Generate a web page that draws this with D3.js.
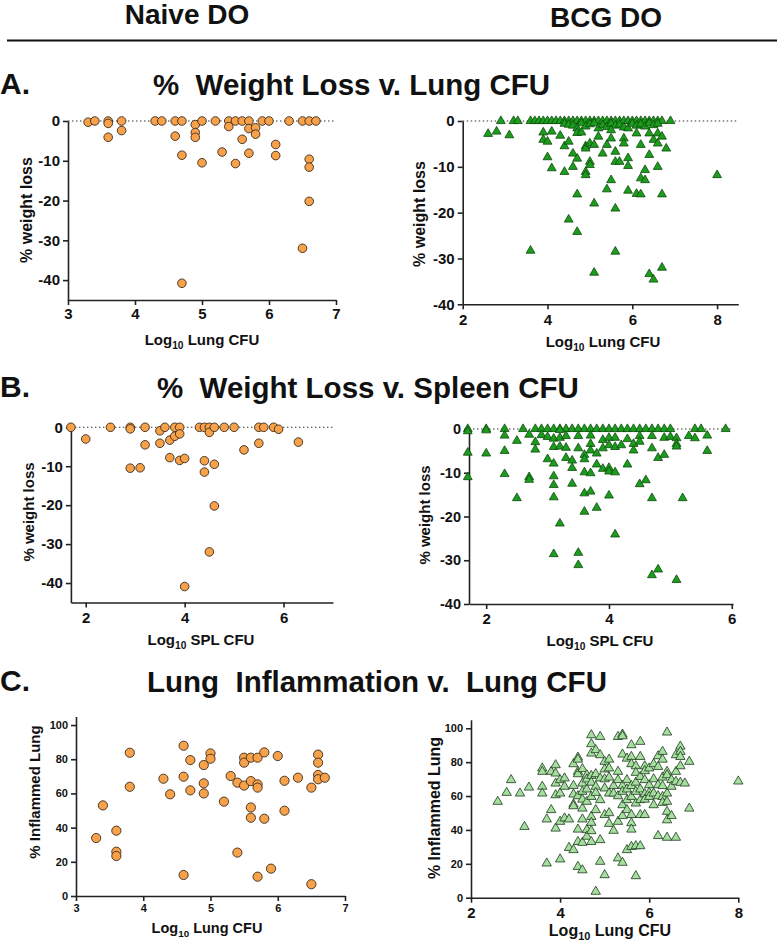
<!DOCTYPE html>
<html>
<head>
<meta charset="utf-8">
<script src="https://cdn.jsdelivr.net/npm/d3@7"></script>
<style>
  body { margin: 0; background: #fff; }
  svg text { font-family: "Liberation Sans", Arial, sans-serif; font-weight: bold; fill: #111; }
</style>
</head>
<body>
<svg id="chart" width="777" height="941"></svg>
<script>
// Panel A: % weight loss v. log10 lung CFU
var naiveWtLung = [
  [3.3,-0.3],[3.4,0],[3.6,0],[3.6,-0.6],[3.6,-4.1],[3.8,0],[3.8,-2.4],[4.3,0],[4.4,0],
  [4.6,0],[4.6,-3.8],[4.7,0],[4.7,-8.6],[4.7,-40.8],[4.9,-0.9],[4.9,-2.9],[4.9,-4.1],
  [5.0,0],[5.0,-10.5],[5.2,0],[5.3,-7.8],[5.4,0],[5.4,-1.4],[5.5,0],[5.5,-10.7],[5.6,0],
  [5.6,-4.6],[5.7,0],[5.7,-1.9],[5.7,-8.1],[5.8,-1.7],[5.8,-3.3],[5.9,0],[6.0,0],
  [6.1,-5.9],[6.1,-8.7],[6.3,0],[6.5,0],[6.5,-32.0],[6.6,0],[6.6,-9.6],[6.6,-11.6],
  [6.6,-20.2],[6.7,0]
];
var bcgWtLung = [
  [2.9,0],[3.2,0],[3.3,0],[3.6,0],[3.7,0],[3.8,0],[3.9,0],[4.0,0],[4.1,0],[4.2,0],[4.3,0],
  [4.4,0],[4.5,0],[4.6,0],[4.7,0],[4.8,0],[4.9,0],[5.0,0],[5.1,0],[5.2,0],[5.3,0],[5.4,0],
  [5.5,0],[5.6,0],[5.7,0],[5.8,0],[5.9,0],[6.0,0],[6.1,0],[6.2,0],[6.3,0],[6.4,0],[6.5,0],
  [6.6,0],[6.7,0],[6.9,0],
  [4.4,-0.6],[4.5,-0.8],[4.6,-1.0],[4.7,-1.6],[4.8,-0.5],[4.9,-1.2],[5.0,-0.7],[5.1,-0.5],
  [5.2,-1.6],[5.3,-0.9],[5.4,-1.3],[5.5,-0.6],[5.6,-1.0],[5.7,-0.8],[5.8,-1.4],[5.9,-1.6],
  [6.0,-0.6],[6.1,-1.0],[6.2,-0.7],[6.3,-1.2],[6.4,-0.5],[6.5,-0.9],[6.6,-0.6],
  [2.6,-2.8],[2.8,-2.3],[3.1,-3.1],[3.6,-28.3],[3.9,-2.5],[3.9,-4.1],[4.0,-4.5],[4.1,-2.3],
  [4.0,-7.9],[4.1,-10.3],[4.3,-3.2],[4.4,-5.5],[4.4,-11.1],[4.5,-4.5],[4.5,-21.5],
  [4.6,-7.1],[4.6,-10.0],[4.7,-8.2],[4.7,-2.6],[4.7,-16.0],[4.7,-24.2],[4.8,-2.5],
  [4.9,-5.5],[4.9,-6.0],[4.9,-11.1],[4.9,-11.8],[5.0,-8.9],[5.0,-9.6],[5.0,-4.9],
  [5.1,-5.2],[5.1,-18.0],[5.1,-33.1],[5.2,-3.4],[5.3,-7.1],[5.4,-5.2],[5.4,-14.9],
  [5.5,-2.0],[5.5,-3.8],[5.5,-12.9],[5.6,-6.7],[5.6,-8.9],[5.6,-19.1],[5.6,-28.5],
  [5.7,-8.9],[5.8,-3.8],[5.8,-4.9],[5.9,-8.1],[5.9,-9.8],[5.9,-15.2],[6.1,-2.7],
  [6.1,-15.9],[6.2,-5.2],[6.2,-12.5],[6.2,-16.0],[6.3,-10.7],[6.3,-12.9],[6.4,-7.4],
  [6.4,-2.7],[6.4,-33.4],[6.5,-4.1],[6.6,-10.0],[6.5,-34.6],[6.6,-2.7],[6.6,-4.9],
  [6.7,-3.4],[6.7,-16.0],[6.7,-32.0],[6.8,-6.0],[8.0,-11.8]
];

// Panel B: % weight loss v. log10 spleen CFU
var naiveWtSpl = [
  [1.7,0],[2.0,-3.0],[2.5,0],[2.9,0],[2.9,-0.4],[2.9,-10.5],[3.1,-10.4],[3.2,0],[3.2,-4.5],
  [3.5,-0.9],[3.5,-4.1],[3.6,0],[3.7,-3.3],[3.7,-7.8],[3.8,0],[3.8,-2.3],[3.9,0],[3.9,-1.7],
  [3.9,-8.5],[4.0,-8.0],[4.0,-40.9],[4.3,0],[4.4,0],[4.4,-8.6],[4.4,-11.5],[4.5,0],
  [4.5,-1.3],[4.5,-32.0],[4.6,0],[4.6,-9.5],[4.6,-20.2],[4.8,0],[5.0,0],[5.2,-5.8],
  [5.5,0],[5.5,-4.1],[5.6,0],[5.8,0],[5.9,-0.5],[6.3,-3.8]
];
var bcgWtSpl = [
  [1.7,0],[2.0,0],[2.3,0],[2.6,0],[2.8,0],[2.9,0],[3.0,0],[3.1,0],[3.2,0],[3.3,0],[3.4,0],
  [3.5,0],[3.6,0],[3.7,0],[3.8,0],[3.9,0],[4.0,0],[4.1,0],[4.2,0],[4.3,0],[4.4,0],[4.5,0],
  [4.6,0],[4.7,0],[4.8,0],[4.9,0],[5.0,0],[5.4,0],[5.5,0],[5.9,0],
  [1.7,-0.5],[1.7,-5.4],[1.7,-11.0],[2.0,-0.3],[2.0,-5.6],[2.3,-1.5],[2.3,-5.0],[2.3,-10.3],
  [2.5,-2.7],[2.5,-15.8],[2.7,-1.3],[2.7,-11.0],[2.7,-11.6],[2.8,-3.0],[2.8,-4.7],
  [2.9,-1.4],[3.0,-1.8],[3.0,-6.9],[3.1,-2.2],[3.1,-4.1],[3.1,-7.9],[3.1,-10.8],
  [3.1,-12.8],[3.1,-15.6],[3.1,-28.6],[3.2,-0.2],[3.2,-2.0],[3.2,-4.0],[3.2,-21.6],
  [3.3,-1.6],[3.3,-4.3],[3.3,-6.6],[3.4,-7.2],[3.4,-8.9],[3.4,-12.5],[3.5,-1.6],
  [3.5,-4.4],[3.5,-28.3],[3.5,-31.1],[3.6,-5.9],[3.6,-6.9],[3.6,-9.9],[3.6,-14.7],
  [3.6,-18.9],[3.7,-1.5],[3.7,-3.4],[3.7,-4.9],[3.7,-10.1],[3.7,-14.3],[3.8,-5.6],
  [3.8,-8.1],[3.8,-18.0],[3.9,-2.5],[3.9,-4.4],[3.9,-9.1],[4.0,-2.0],[4.0,-3.7],
  [4.0,-8.9],[4.0,-9.7],[4.0,-15.2],[4.1,-2.0],[4.1,-4.1],[4.1,-9.9],[4.1,-24.1],
  [4.2,-3.7],[4.3,-2.3],[4.3,-8.1],[4.4,-3.4],[4.4,-4.9],[4.5,-1.6],[4.5,-2.9],
  [4.5,-12.6],[4.6,-11.7],[4.7,-1.6],[4.7,-4.4],[4.7,-15.8],[4.7,-33.4],[4.8,-6.6],
  [4.8,-32.1],[4.9,-2.0],[4.9,-5.9],[5.0,-1.8],[5.1,-2.1],[5.1,-3.4],[5.1,-4.0],
  [5.1,-34.5],[5.2,-15.8],[5.3,-1.6],[5.4,-2.1],[5.6,-1.5],[5.6,-5.0]
];

// Panel C: % inflamed lung v. log10 lung CFU
var naiveInflLung = [
  [3.3,33.9],[3.4,53.0],[3.6,38.2],[3.6,25.9],[3.6,23.4],[3.8,83.8],[3.8,63.9],[4.3,68.6],
  [4.4,59.5],[4.6,87.9],[4.6,69.8],[4.6,12.3],[4.7,79.5],[4.7,61.8],[4.9,76.6],[4.9,65.9],
  [4.9,60.0],[5.0,83.4],[5.0,80.3],[5.2,55.2],[5.3,70.2],[5.4,66.3],[5.4,25.4],[5.5,80.9],
  [5.5,78.0],[5.5,64.6],[5.6,80.9],[5.6,67.2],[5.6,51.8],[5.6,45.8],[5.7,80.9],[5.7,65.3],
  [5.7,63.4],[5.7,11.3],[5.8,84.0],[5.8,45.2],[5.9,16.0],[6.0,81.9],[6.1,67.4],[6.1,49.9],
  [6.3,69.2],[6.5,63.4],[6.5,6.9],[6.6,82.7],[6.6,78.0],[6.6,70.8],[6.6,68.3],[6.7,69.2]
];
var bcgInflLung = [
  [2.6,56.7],[2.8,62.0],[2.9,69.5],[3.1,61.6],[3.2,41.9],[3.3,65.1],
  [3.6,76.4],[3.6,74.4],[3.6,65.6],[3.6,61.6],[3.7,20.3],[3.7,46.3],[3.8,74.4],[3.8,51.8],
  [3.9,78.3],[3.9,73.4],[3.9,67.5],[3.9,60.6],[3.9,40.9],[4.0,69.5],[4.0,61.6],[4.0,44.9],
  [4.0,22.7],[4.1,70.5],[4.1,65.6],[4.1,46.9],[4.2,46.3],[4.2,29.5],[4.3,78.9],[4.3,66.1],
  [4.3,61.0],[4.3,55.1],[4.3,54.1],[4.3,28.2],[4.4,82.8],[4.4,81.6],[4.4,74.4],[4.4,73.0],
  [4.4,60.0],[4.4,40.3],[4.4,33.0],[4.4,18.3],[4.5,76.0],[4.5,67.5],[4.5,62.6],[4.5,58.0],
  [4.5,52.7],[4.5,46.3],[4.5,32.5],[4.5,16.3],[4.6,72.4],[4.6,69.9],[4.6,64.0],[4.6,56.7],
  [4.6,40.0],[4.6,36.1],[4.7,96.0],[4.7,90.7],[4.7,85.2],[4.7,72.0],[4.7,68.0],[4.7,59.6],
  [4.7,47.8],[4.7,44.3],[4.7,39.4],[4.7,33.0],[4.8,87.2],[4.8,73.0],[4.8,65.6],[4.8,62.0],
  [4.8,51.8],[4.8,3.6],[4.9,95.0],[4.9,84.2],[4.9,70.5],[4.9,57.7],[4.9,34.1],[4.9,21.3],
  [5.0,80.3],[5.0,75.8],[5.0,70.0],[5.0,64.6],[5.0,48.9],[5.0,13.4],[5.1,81.6],[5.1,76.4],
  [5.1,71.0],[5.1,61.6],[5.1,50.0],[5.1,43.7],[5.2,66.0],[5.2,61.6],[5.2,39.6],[5.3,95.0],
  [5.3,74.4],[5.3,69.5],[5.3,60.0],[5.3,44.9],[5.3,23.3],[5.4,96.4],[5.4,95.4],[5.4,84.6],
  [5.4,66.1],[5.4,62.6],[5.4,54.7],[5.4,48.3],[5.4,20.7],[5.5,82.2],[5.5,69.5],[5.5,64.0],
  [5.5,57.7],[5.5,51.8],[5.5,28.2],[5.6,90.1],[5.6,83.2],[5.6,78.9],[5.6,66.0],[5.6,59.6],
  [5.6,48.9],[5.6,44.1],[5.6,40.3],[5.6,30.1],[5.7,77.7],[5.7,73.8],[5.7,68.0],[5.7,62.6],
  [5.7,55.7],[5.7,30.5],[5.7,12.8],[5.8,92.1],[5.8,83.2],[5.8,71.4],[5.8,64.0],[5.8,57.7],
  [5.8,48.9],[5.8,30.5],[5.9,77.7],[5.9,74.8],[5.9,69.5],[5.9,61.2],[5.9,58.0],[5.9,48.9],
  [6.0,76.4],[6.0,66.5],[6.0,62.0],[6.0,59.6],[6.1,78.9],[6.1,70.0],[6.1,61.6],[6.1,54.7],
  [6.2,83.6],[6.2,77.3],[6.2,66.5],[6.2,60.0],[6.2,36.5],[6.3,86.2],[6.3,81.6],[6.3,71.0],
  [6.3,66.0],[6.3,59.6],[6.3,56.1],[6.4,97.6],[6.4,74.4],[6.4,72.4],[6.4,61.6],[6.4,56.7],
  [6.4,50.8],[6.4,45.8],[6.4,35.5],[6.5,69.5],[6.5,65.6],[6.5,48.3],[6.6,84.2],[6.6,74.4],
  [6.6,68.5],[6.6,35.5],[6.7,89.3],[6.7,86.2],[6.7,83.2],[6.7,77.7],[6.7,67.9],[6.8,67.5],
  [6.9,80.3],[6.9,52.7],[8.0,68.7]
];

// tick labels
var wtTicks = [0, -10, -20, -30, -40];
var inflTicks = [0, 20, 40, 60, 80, 100];
var naiveLungTicks = [3, 4, 5, 6, 7];
var bcgLungTicks = [2, 4, 6, 8];
var splTicks = [2, 4, 6];

var svg = d3.select("#chart");

var markers = {
  orange: { fill: "#f7a24a", stroke: "#3a2a1c" },
  green: { fill: "#1c9c1c", stroke: "#0d4a0d" },
  pale: { fill: "#a6dea0", stroke: "#1c3a1c" }
};

function addLogLabel(g, x, y, size, rest) {
  var t = g.append("text").attr("x", x).attr("y", y)
    .attr("text-anchor", "middle").style("font-size", size + "px");
  t.append("tspan").text("Log");
  t.append("tspan").text("10").style("font-size", (size * 0.68) + "px").attr("dy", size * 0.28);
  t.append("tspan").text(" " + rest).attr("dy", -size * 0.28);
}

function drawPanel(p) {
  var x = d3.scaleLinear().domain(p.xDomain).range(p.xRange);
  var y = d3.scaleLinear().domain(p.yDomain).range(p.yRange);
  var g = svg.append("g");

  var xa = g.append("g")
    .attr("transform", "translate(0," + p.yRange[0] + ")")
    .call(d3.axisBottom(x).tickValues(p.xTicks).tickSize(5).tickSizeOuter(0)
      .tickPadding(p.xPad).tickFormat(function (d) { return String(d); }));
  var ya = g.append("g")
    .attr("transform", "translate(" + p.xRange[0] + ",0)")
    .call(d3.axisLeft(y).tickValues(p.yTicks).tickSize(5).tickSizeOuter(0)
      .tickPadding(3).tickFormat(function (d) { return String(d); }));

  [xa, ya].forEach(function (a) {
    a.selectAll(".domain, .tick line").attr("stroke", "#222").attr("stroke-width", 1.6);
  });
  xa.selectAll("text").style("font-size", p.xFont + "px");
  ya.selectAll("text").style("font-size", p.yFont + "px");

  if (p.zero) {
    g.append("line")
      .attr("x1", p.xRange[0]).attr("x2", p.xRange[1])
      .attr("y1", y(0)).attr("y2", y(0))
      .attr("stroke", "#333").attr("stroke-width", 1.1)
      .attr("stroke-dasharray", "1.5,2.5");
  }

  var m = markers[p.color];
  if (p.shape === "circle") {
    g.selectAll("circle.pt").data(p.data).join("circle")
      .attr("class", "pt")
      .attr("cx", function (d) { return x(d[0]); })
      .attr("cy", function (d) { return y(d[1]); })
      .attr("r", p.r)
      .attr("fill", m.fill).attr("stroke", m.stroke).attr("stroke-width", 0.9);
  } else {
    var sym = d3.symbol().type(d3.symbolTriangle).size(p.size);
    g.selectAll("path.pt").data(p.data).join("path")
      .attr("class", "pt")
      .attr("d", sym)
      .attr("transform", function (d) { return "translate(" + x(d[0]) + "," + y(d[1]) + ")"; })
      .attr("fill", m.fill).attr("stroke", m.stroke).attr("stroke-width", 0.8);
  }

  g.append("text")
    .attr("transform", "translate(" + p.yLab[0] + "," + p.yLab[1] + ") rotate(-90)")
    .attr("text-anchor", "middle")
    .style("font-size", p.yLabFont + "px")
    .text(p.yTitle);

  addLogLabel(g, p.xLab[0], p.xLab[1], p.xLabFont, p.xTitle);
}

// header
svg.append("text").attr("x", 187).attr("y", 24).attr("text-anchor", "middle")
  .style("font-size", "28px").text("Naive DO");
svg.append("text").attr("x", 606).attr("y", 27).attr("text-anchor", "middle")
  .style("font-size", "28px").text("BCG DO");
svg.append("line").attr("x1", 7).attr("x2", 777).attr("y1", 40.5).attr("y2", 40.5)
  .attr("stroke", "#111").attr("stroke-width", 2);

// row titles
var rowTitles = [
  { tag: "A.", text: "%  Weight Loss v. Lung CFU", x: 153, y: 95 },
  { tag: "B.", text: "%  Weight Loss v. Spleen CFU", x: 157, y: 398 },
  { tag: "C.", text: "Lung  Inflammation v.  Lung CFU", x: 147, y: 692 }
];
rowTitles.forEach(function (t) {
  svg.append("text").attr("x", 0).attr("y", t.y - 1)
    .style("font-size", "30px").text(t.tag);
  svg.append("text").attr("x", t.x).attr("y", t.y)
    .style("font-size", "29.5px").style("white-space", "pre").text(t.text);
});

drawPanel({
  data: naiveWtLung, shape: "circle", color: "orange", r: 4.3,
  xDomain: [3, 7], xRange: [68, 336], yDomain: [-45, 0], yRange: [300, 121],
  xTicks: naiveLungTicks, yTicks: wtTicks, xPad: 3, xFont: 15, yFont: 15, zero: true,
  yTitle: "% weight loss", yLab: [32, 210], yLabFont: 16,
  xTitle: "Lung CFU", xLab: [202, 345], xLabFont: 15
});
drawPanel({
  data: bcgWtLung, shape: "tri", color: "green", size: 34,
  xDomain: [2, 8.5], xRange: [462.7, 738.3], yDomain: [-40, 0], yRange: [304.3, 121],
  xTicks: bcgLungTicks, yTicks: wtTicks, xPad: 5, xFont: 15, yFont: 15, zero: true,
  yTitle: "% weight loss", yLab: [425, 214], yLabFont: 16,
  xTitle: "Lung CFU", xLab: [603, 347], xLabFont: 15
});
drawPanel({
  data: naiveWtSpl, shape: "circle", color: "orange", r: 4.3,
  xDomain: [1.7, 7], xRange: [70.9, 333], yDomain: [-45, 0], yRange: [602.5, 427.3],
  xTicks: splTicks, yTicks: wtTicks, xPad: 5, xFont: 15, yFont: 15, zero: true,
  yTitle: "% weight loss", yLab: [34, 512], yLabFont: 15,
  xTitle: "SPL CFU", xLab: [201, 645], xLabFont: 15
});
drawPanel({
  data: bcgWtSpl, shape: "tri", color: "green", size: 34,
  xDomain: [1.72, 6.02], xRange: [469, 733], yDomain: [-40, 0], yRange: [604, 429],
  xTicks: splTicks, yTicks: wtTicks, xPad: 4, xFont: 15, yFont: 14.5, zero: true,
  yTitle: "% weight loss", yLab: [430, 515], yLabFont: 15,
  xTitle: "SPL CFU", xLab: [600, 646], xLabFont: 15
});
drawPanel({
  data: naiveInflLung, shape: "circle", color: "orange", r: 4.6,
  xDomain: [3, 7], xRange: [76, 345], yDomain: [0, 105], yRange: [896, 716.5],
  xTicks: naiveLungTicks, yTicks: inflTicks, xPad: 3, xFont: 11, yFont: 11, zero: false,
  yTitle: "% Inflammed Lung", yLab: [40, 792], yLabFont: 15,
  xTitle: "Lung CFU", xLab: [207, 933], xLabFont: 14.5
});
drawPanel({
  data: bcgInflLung, shape: "tri", color: "pale", size: 38,
  xDomain: [2, 8], xRange: [471, 738.3], yDomain: [0, 105], yRange: [897.7, 719.8],
  xTicks: bcgLungTicks, yTicks: inflTicks, xPad: 4.5, xFont: 15, yFont: 11, zero: false,
  yTitle: "% Inflammed Lung", yLab: [440, 808], yLabFont: 16,
  xTitle: "Lung CFU", xLab: [610, 936], xLabFont: 16
});
</script>
</body>
</html>
